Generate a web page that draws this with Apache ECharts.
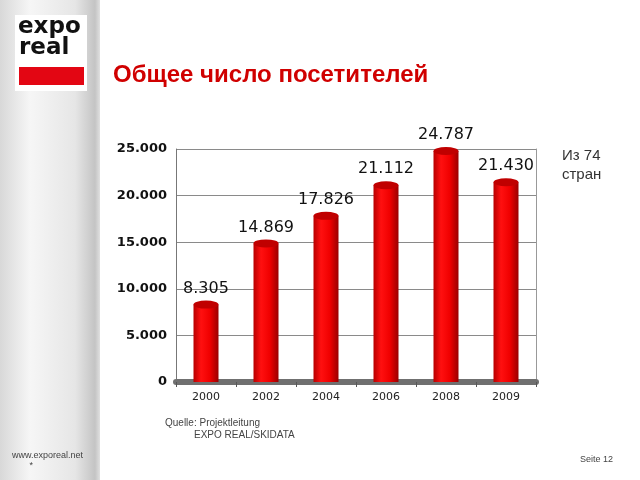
<!DOCTYPE html>
<html lang="ru">
<head>
<meta charset="UTF-8">
<title>Общее число посетителей</title>
<script src="https://cdn.jsdelivr.net/npm/echarts@6/dist/echarts.min.js"></script>
</head>
<body style="margin:0;background:#fff;">
<div id="main" style="width:640px;height:480px;"></div>
<script>
    // данные
    var years = ['2000', '2002', '2004', '2006', '2008', '2009'];
    var visitors = [8305, 14869, 17826, 21112, 24787, 21430];

    function fmt(v) {
        return String(v).replace(/\B(?=(\d{3})+(?!\d))/g, '.');
    }

    var myChart = echarts.init(document.getElementById('main'));

    var barColor = {
        type: 'linear', x: 0, y: 0, x2: 1, y2: 0,
        colorStops: [
            {offset: 0, color: '#b80000'},
            {offset: 0.3, color: '#ff1010'},
            {offset: 0.65, color: '#f00000'},
            {offset: 1, color: '#9a0000'}
        ]
    };

    myChart.setOption({
        animation: false,
        backgroundColor: '#fff',
        graphic: [
            // левая серая полоса
            {type: 'rect', left: 0, top: 0, shape: {width: 100, height: 480}, z: -10,
                style: {fill: {type: 'linear', x: 0, y: 0, x2: 1, y2: 0, colorStops: [
                    {offset: 0, color: '#d8d8d8'}, {offset: 0.3, color: '#f6f6f6'},
                    {offset: 0.75, color: '#e6e6e6'}, {offset: 0.95, color: '#c4c4c4'},
                    {offset: 1, color: '#e0e0e0'}]}}},
            // логотип
            {type: 'rect', left: 15, top: 15, shape: {width: 72, height: 76}, style: {fill: '#fff'}},
            {type: 'text', left: 18, top: 16, style: {text: 'expo', font: 'bold 23px "DejaVu Sans"', fill: '#111'}},
            {type: 'text', left: 19, top: 37, style: {text: 'real', font: 'bold 23px "DejaVu Sans"', fill: '#111'}},
            {type: 'rect', left: 19, top: 67, shape: {width: 65, height: 18}, style: {fill: '#e30613'}},
            // заголовок
            {type: 'text', left: 113, top: 63, style: {text: 'Общее число посетителей',
                font: 'bold 24px "Liberation Sans"', fill: '#d00000'}},
            {type: 'text', left: 562, top: 146, style: {text: 'Из 74\nстран',
                font: '15px "Liberation Sans"', fill: '#333', lineHeight: 19}},
            {type: 'text', left: 165, top: 418, style: {text: 'Quelle: Projektleitung',
                font: '10px "Liberation Sans"', fill: '#444'}},
            {type: 'text', left: 194, top: 430, style: {text: 'EXPO REAL/SKIDATA',
                font: '10px "Liberation Sans"', fill: '#444'}},
            {type: 'text', left: 12, top: 451, style: {text: 'www.exporeal.net\n       *',
                font: '9px "Liberation Sans"', fill: '#444', lineHeight: 10}},
            {type: 'text', left: 580, top: 455, style: {text: 'Seite 12',
                font: '9px "Liberation Sans"', fill: '#444'}}
        ],
        grid: {left: 176, right: 104, top: 149, bottom: 98},
        xAxis: {
            type: 'category',
            data: years,
            axisLine: {show: true, lineStyle: {color: '#707070', width: 6}},
            axisTick: {show: true, length: 5, lineStyle: {color: '#555'}},
            axisLabel: {color: '#222', fontSize: 11, fontFamily: 'DejaVu Sans', margin: 10}
        },
        yAxis: [{
            type: 'value',
            min: 0,
            max: 25000,
            interval: 5000,
            axisLine: {show: true, lineStyle: {color: '#777'}},
            axisTick: {show: false},
            splitLine: {show: true, lineStyle: {color: '#8a8a8a'}},
            axisLabel: {color: '#111', fontSize: 13, fontWeight: 'bold', fontFamily: 'DejaVu Sans',
                margin: 9, formatter: fmt}
        }, {
            type: 'value',
            min: 0,
            max: 25000,
            interval: 5000,
            position: 'right',
            axisLine: {show: true, lineStyle: {color: '#999'}},
            axisTick: {show: false},
            axisLabel: {show: false},
            splitLine: {show: false}
        }],
        series: [{
            type: 'bar',
            data: visitors,
            barWidth: 25,
            itemStyle: {color: barColor},
            label: {
                show: true,
                position: 'top',
                distance: 8,
                color: '#111',
                fontSize: 16,
                fontFamily: 'DejaVu Sans',
                formatter: function (p) { return fmt(p.value); }
            },
            z: 2
        }, {
            type: 'pictorialBar',
            data: visitors,
            symbol: 'circle',
            symbolSize: [25, 8],
            symbolPosition: 'end',
            symbolOffset: [0, '-50%'],
            itemStyle: {color: '#c00000'},
            z: 3
        }]
    });
</script>
</body>
</html>
